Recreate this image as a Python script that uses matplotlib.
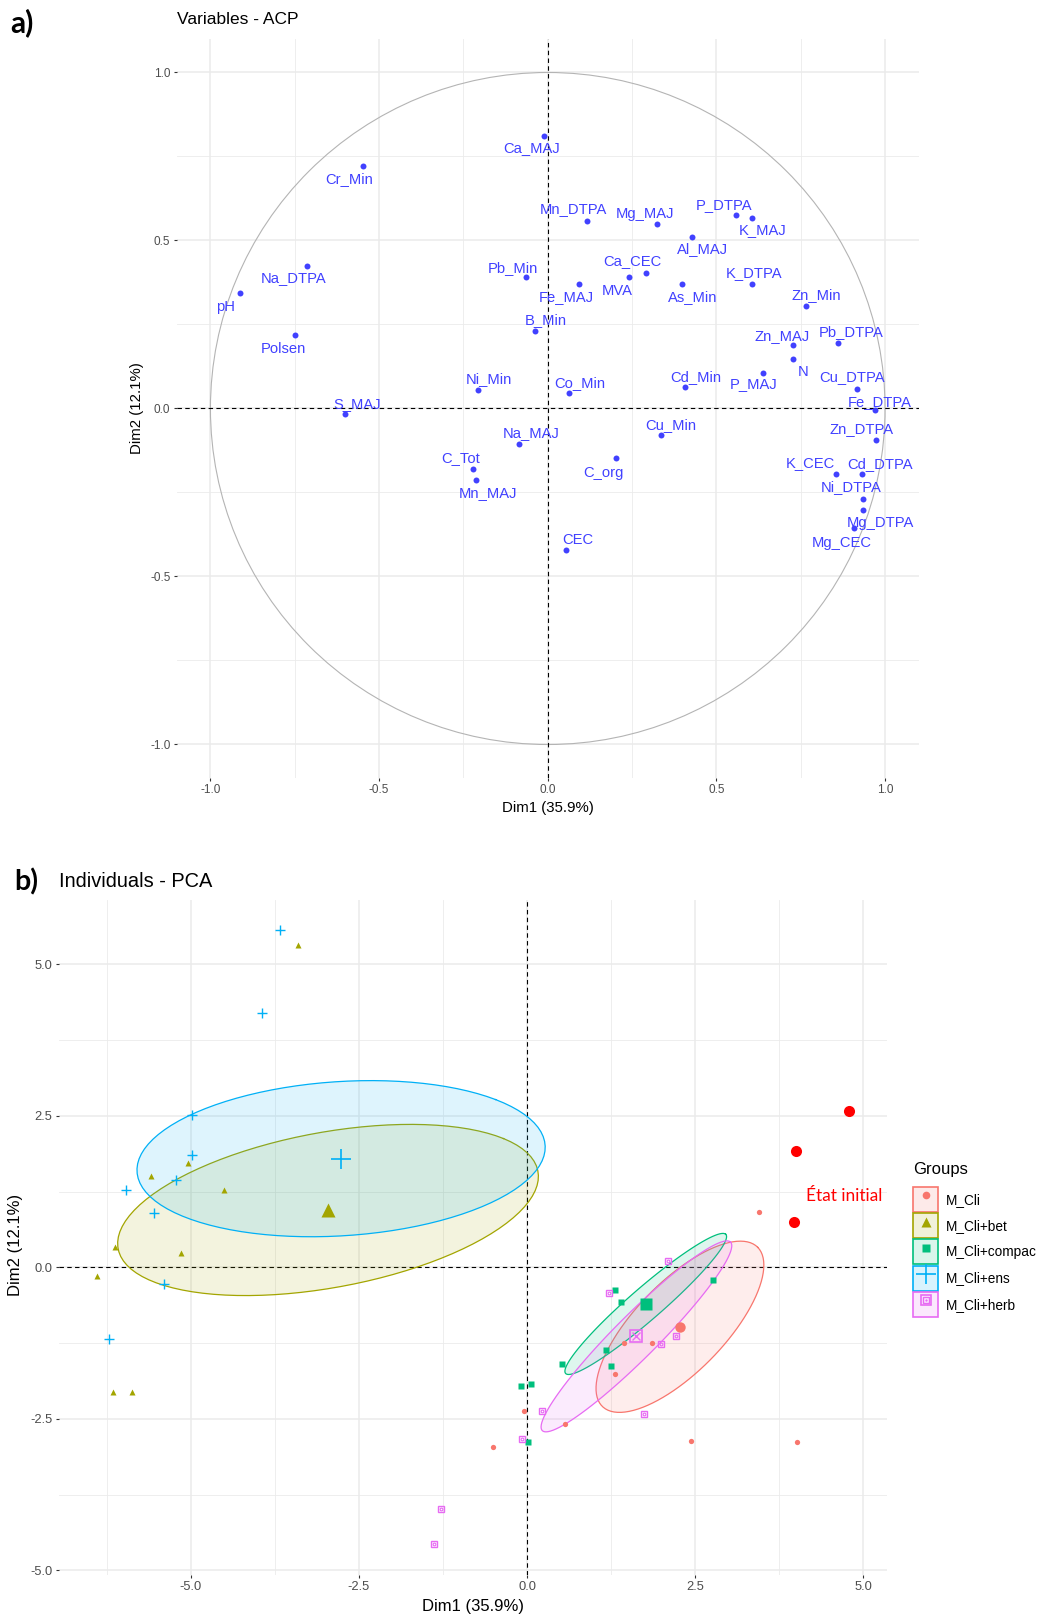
import numpy as np
import matplotlib
matplotlib.use("Agg")
import matplotlib.pyplot as plt
from matplotlib.lines import Line2D
from matplotlib.patches import Patch, Circle
from matplotlib.legend_handler import HandlerTuple

plt.rcParams["font.family"] = ["Liberation Sans", "DejaVu Sans"]
plt.rcParams["axes.unicode_minus"] = False

# ---- a) variables, coordinates on Dim1 / Dim2
var_names = ["Ca_MAJ", "Cr_Min", "Mn_DTPA", "Mg_MAJ", "P_DTPA", "K_MAJ", "Al_MAJ",
             "Na_DTPA", "pH", "Pb_Min", "Ca_CEC", "MVA", "Fe_MAJ", "As_Min",
             "K_DTPA", "Zn_Min", "B_Min", "Polsen", "Zn_MAJ", "Pb_DTPA", "N",
             "P_MAJ", "Cd_Min", "Cu_DTPA", "Ni_Min", "Co_Min", "S_MAJ", "Fe_DTPA",
             "Cu_Min", "Zn_DTPA", "Na_MAJ", "C_org", "C_Tot", "K_CEC", "Cd_DTPA",
             "Mn_MAJ", "Ni_DTPA", "Mg_DTPA", "Mg_CEC", "CEC"]
var_dim1 = [-0.010, -0.549, 0.115, 0.323, 0.557, 0.606, 0.428,
            -0.714, -0.913, -0.065, 0.290, 0.242, 0.093, 0.398,
            0.606, 0.765, -0.039, -0.748, 0.728, 0.861, 0.726,
            0.639, 0.408, 0.918, -0.206, 0.064, -0.600, 0.969,
            0.335, 0.973, -0.086, 0.202, -0.222, 0.855, 0.931,
            -0.212, 0.934, 0.934, 0.908, 0.054]
var_dim2 = [0.812, 0.721, 0.559, 0.549, 0.576, 0.568, 0.510,
            0.425, 0.344, 0.390, 0.404, 0.390, 0.372, 0.372,
            0.372, 0.305, 0.230, 0.218, 0.188, 0.194, 0.148,
            0.107, 0.065, 0.058, 0.056, 0.046, -0.017, -0.005,
            -0.080, -0.095, -0.107, -0.146, -0.180, -0.195, -0.195,
            -0.213, -0.270, -0.303, -0.357, -0.421]

# label placement (pixel offsets from the point, repel style)
lab_dx = [-12.6, -13.1, -13.4, -11.4, -11.7, 10, 10,
          -13.1, -13.8, -12.7, -13.4, -12, -13.3, 10.3,
          2, 11, 11.7, -12.1, -11.6, 12.7, 10.6,
          -9.3, 10, -5.6, 11, 10.7, 11.4, 5.3,
          10, -14.3, 12.3, -12.7, -12.3, -25.6, 18.3,
          11.4, -12, 17.3, -12.3, 11.8]
lab_dy = [12.6, 12.7, -11.4, -9.7, -9.7, 12.3, 12.3,
          12, 13.7, -9.6, -11.7, 13.7, 13.6, 14,
          -10.7, -10.7, -11.3, 13.4, -9.3, -11.6, 13.3,
          11.3, -10, -11.7, -10.7, -10.3, -10.3, -8.6,
          -10.3, -11, -11.6, 15, -10.7, -10.7, -10,
          13.3, -12, 12.4, 15, -10.4]

var_ticks = [-1.0, -0.5, 0.0, 0.5, 1.0]
var_minor = [-0.75, -0.25, 0.25, 0.75]

# ---- b) individuals, coordinates on Dim1 / Dim2
groups = ["M_Cli", "M_Cli+bet", "M_Cli+compac", "M_Cli+ens", "M_Cli+herb"]
init_dim1 = [4.79, 3.99, 3.96]   # "Etat initial", shared by every group
init_dim2 = [2.58, 1.92, 0.75]
cli_dim1 = [3.44, 1.85, 1.44, 1.31, -0.04, 0.57, -0.50, 2.44, 4.01]
cli_dim2 = [0.91, -1.25, -1.25, -1.76, -2.37, -2.59, -2.96, -2.86, -2.88]
bet_dim1 = [-3.41, -5.04, -5.59, -4.50, -6.13, -5.15, -6.40, -6.15, -5.88]
bet_dim2 = [5.32, 1.72, 1.51, 1.27, 0.33, 0.24, -0.15, -2.06, -2.06]
compac_dim1 = [2.77, 1.31, 1.40, 1.18, 0.52, 1.25, -0.09, 0.06, 0.02]
compac_dim2 = [-0.21, -0.38, -0.57, -1.36, -1.60, -1.62, -1.95, -1.92, -2.88]
ens_dim1 = [-3.67, -3.94, -4.98, -4.98, -5.22, -5.96, -5.55, -5.40, -6.22]
ens_dim2 = [5.56, 4.20, 2.51, 1.85, 1.45, 1.28, 0.89, -0.27, -1.19]
herb_dim1 = [2.10, 1.22, 2.22, 1.99, 0.22, 1.74, -0.07, -1.28, -1.38]
herb_dim2 = [0.10, -0.43, -1.14, -1.26, -2.37, -2.42, -2.83, -3.99, -4.57]

ind_ticks = [-5.0, -2.5, 0.0, 2.5, 5.0]
ind_minor = [-6.25, -3.75, -1.25, 1.25, 3.75]

grp_dim1 = [cli_dim1, bet_dim1, compac_dim1, ens_dim1, herb_dim1]
grp_dim2 = [cli_dim2, bet_dim2, compac_dim2, ens_dim2, herb_dim2]
grp_colors = ["#F8766D", "#A3A500", "#00BF7D", "#00B0F6", "#E76BF3"]
grp_markers = ["o", "^", "s", "+", "s"]
small_ms = [3.8, 4.8, 4.2, 7.5, 4.4]
big_ms = [7.5, 10.5, 8.5, 14, 8.5]
key_ms = [5.5, 7, 6, 11, 5.5]

BLUE = "#4141FF"
GRID = "#EBEBEB"
TICKC = "#4D4D4D"


def conf_ellipse(x, y, cx, cy, level=0.95, npoint=100):
    # same construction as FactoMineR::coord.ellipse(bary=TRUE)
    cov = np.cov(x, y) / len(x)
    t = np.sqrt(-2 * np.log(1 - level))
    sx, sy = np.sqrt(cov[0, 0]), np.sqrt(cov[1, 1])
    d = np.arccos(cov[0, 1] / (sx * sy))
    a = np.linspace(0, 2 * np.pi, npoint)
    return t * sx * np.cos(a + d / 2) + cx, t * sy * np.cos(a - d / 2) + cy


def style_axes(ax, major, minor, fs, xlim, ylim):
    for s in ax.spines.values():
        s.set_visible(False)
    ax.set_xticks(major)
    ax.set_yticks(major)
    ax.set_xticks(minor, minor=True)
    ax.set_yticks(minor, minor=True)
    ax.set_xticklabels([f"{v:.1f}" for v in major])
    ax.set_yticklabels([f"{v:.1f}" for v in major])
    ax.tick_params(which="major", length=2.5, width=0.8, color="#333333",
                   labelcolor=TICKC, labelsize=fs, pad=2)
    ax.tick_params(which="minor", length=0)
    ax.grid(which="major", color=GRID, lw=1.1)
    ax.grid(which="minor", color=GRID, lw=0.6)
    ax.set_axisbelow(True)
    ax.set_xlim(*xlim)
    ax.set_ylim(*ylim)


fig = plt.figure(figsize=(10.43, 16.18), dpi=100)

# ================= a) variables
ax1 = fig.add_axes([0.16942, 0.51910, 0.71150, 0.45686])
style_axes(ax1, var_ticks, var_minor, 8.5, (-1.1, 1.1), (-1.1, 1.1))
ax1.add_patch(Circle((0, 0), 1.0, fill=False, ec="#B4B4B4", lw=0.8))
ax1.axhline(0, color="black", lw=0.8, ls=(0, (4, 3)))
ax1.axvline(0, color="black", lw=0.8, ls=(0, (4, 3)))
ax1.plot(var_dim1, var_dim2, "o", color=BLUE, ms=4.3, mec="none")
for name, x, y, dx, dy in zip(var_names, var_dim1, var_dim2, lab_dx, lab_dy):
    ax1.annotate(name, (x, y), xytext=(dx * 0.72, -dy * 0.72), textcoords="offset points",
                 ha="center", va="center", color=BLUE, fontsize=10.6)

fig.text(0.0096, 0.9862, "a)", fontsize=21.5, fontweight="bold", family="Lato", va="center")
fig.text(0.1697, 0.9880, "Variables - ACP", fontsize=12.5, va="center")
fig.text(0.5254, 0.5006, "Dim1 (35.9%)", fontsize=10.8, ha="center", va="center")
fig.text(0.1314, 0.7478, "Dim2 (12.1%)", fontsize=10.8, ha="center", va="center", rotation=90)

# ================= b) individuals
all_x = np.concatenate([np.concatenate(grp_dim1), init_dim1])
all_y = np.concatenate([np.concatenate(grp_dim2), init_dim2])
xr = all_x.max() - all_x.min()
yr = all_y.max() - all_y.min()

ax2 = fig.add_axes([0.05647, 0.02658, 0.79396, 0.41730])
style_axes(ax2, ind_ticks, ind_minor, 9.3,
           (all_x.min() - 0.05 * xr, all_x.max() + 0.05 * xr),
           (all_y.min() - 0.05 * yr, all_y.max() + 0.05 * yr))
ax2.axhline(0, color="black", lw=0.8, ls=(0, (4, 3)), zorder=1)
ax2.axvline(0, color="black", lw=0.8, ls=(0, (4, 3)), zorder=1)

for i, g in enumerate(groups):
    gx = np.concatenate([grp_dim1[i], init_dim1])
    gy = np.concatenate([grp_dim2[i], init_dim2])
    ex, ey = conf_ellipse(gx, gy, gx.mean(), gy.mean())
    col = grp_colors[i]
    ax2.fill(ex, ey, color=col, alpha=0.13, lw=0, zorder=2)
    ax2.plot(ex, ey, color=col, lw=0.9, zorder=2)

handles = []
for i, g in enumerate(groups):
    gx = np.concatenate([grp_dim1[i], init_dim1])
    gy = np.concatenate([grp_dim2[i], init_dim2])
    cx, cy = gx.mean(), gy.mean()
    col = grp_colors[i]
    box = Patch(fc=matplotlib.colors.to_rgba(col, 0.15), ec=col, lw=1.2)
    if i == 4:
        ax2.plot(grp_dim1[i], grp_dim2[i], "s", ms=small_ms[i], mfc="none", mec=col, mew=1.0, zorder=3)
        ax2.plot(grp_dim1[i], grp_dim2[i], "o", ms=small_ms[i] * 0.45, mfc="none", mec=col, mew=0.8, zorder=3)
        ax2.plot([cx], [cy], "s", ms=big_ms[i], mfc="none", mec=col, mew=1.2, zorder=4)
        ax2.plot([cx], [cy], "x", ms=big_ms[i] * 0.7, color=col, mew=1.0, zorder=4)
        key = (box,
               Line2D([], [], ls="none", marker="s", ms=key_ms[i] * 1.3, mfc="none", mec=col, mew=1.2),
               Line2D([], [], ls="none", marker="s", ms=key_ms[i] * 0.7, mfc="none", mec=col, mew=1.0),
               Line2D([], [], ls="none", marker="o", ms=key_ms[i] * 0.3, color=col, mec="none"))
    elif grp_markers[i] == "+":
        ax2.plot(grp_dim1[i], grp_dim2[i], "+", ms=small_ms[i], color=col, mew=1.0, zorder=3)
        ax2.plot([cx], [cy], "+", ms=big_ms[i], color=col, mew=1.2, zorder=4)
        key = (box, Line2D([], [], ls="none", marker="+", ms=key_ms[i] * 1.3, color=col, mew=1.2))
    else:
        m = grp_markers[i]
        ax2.plot(grp_dim1[i], grp_dim2[i], m, ms=small_ms[i], color=col, mec="none", zorder=3)
        ax2.plot([cx], [cy], m, ms=big_ms[i], color=col, mec="none", zorder=4)
        key = (box, Line2D([], [], ls="none", marker=m, ms=key_ms[i], color=col, mec="none"))
    handles.append(key)

ax2.plot(init_dim1, init_dim2, "o", color="#FF0000", ms=8, mec="none", zorder=5)
ax2.text(4.72, 1.17, "État initial", color="#FF0000", fontsize=12.5, family="Lato",
         ha="center", va="center")

fig.text(0.0134, 0.4549, "b)", fontsize=20.5, fontweight="bold", family="Lato", va="center")
fig.text(0.0566, 0.4552, "Individuals - PCA", fontsize=14.4, va="center")
fig.text(0.4535, 0.0068, "Dim1 (35.9%)", fontsize=12, ha="center", va="center")
fig.text(0.0149, 0.2305, "Dim2 (12.1%)", fontsize=12, ha="center", va="center", rotation=90)

# legend: title as plain text, keys below it
fig.text(0.8754, 0.2769, "Groups", fontsize=12, va="center")
fig.legend(handles, groups, handler_map={tuple: HandlerTuple(ndivide=1, pad=0)},
           loc="upper left", bbox_to_anchor=(0.8754, 0.2664), frameon=False,
           fontsize=9.8, handlelength=1.84, handleheight=2.45, labelspacing=0.09,
           handletextpad=0.6, borderpad=0, borderaxespad=0)

fig.savefig("out.png", dpi=100)
